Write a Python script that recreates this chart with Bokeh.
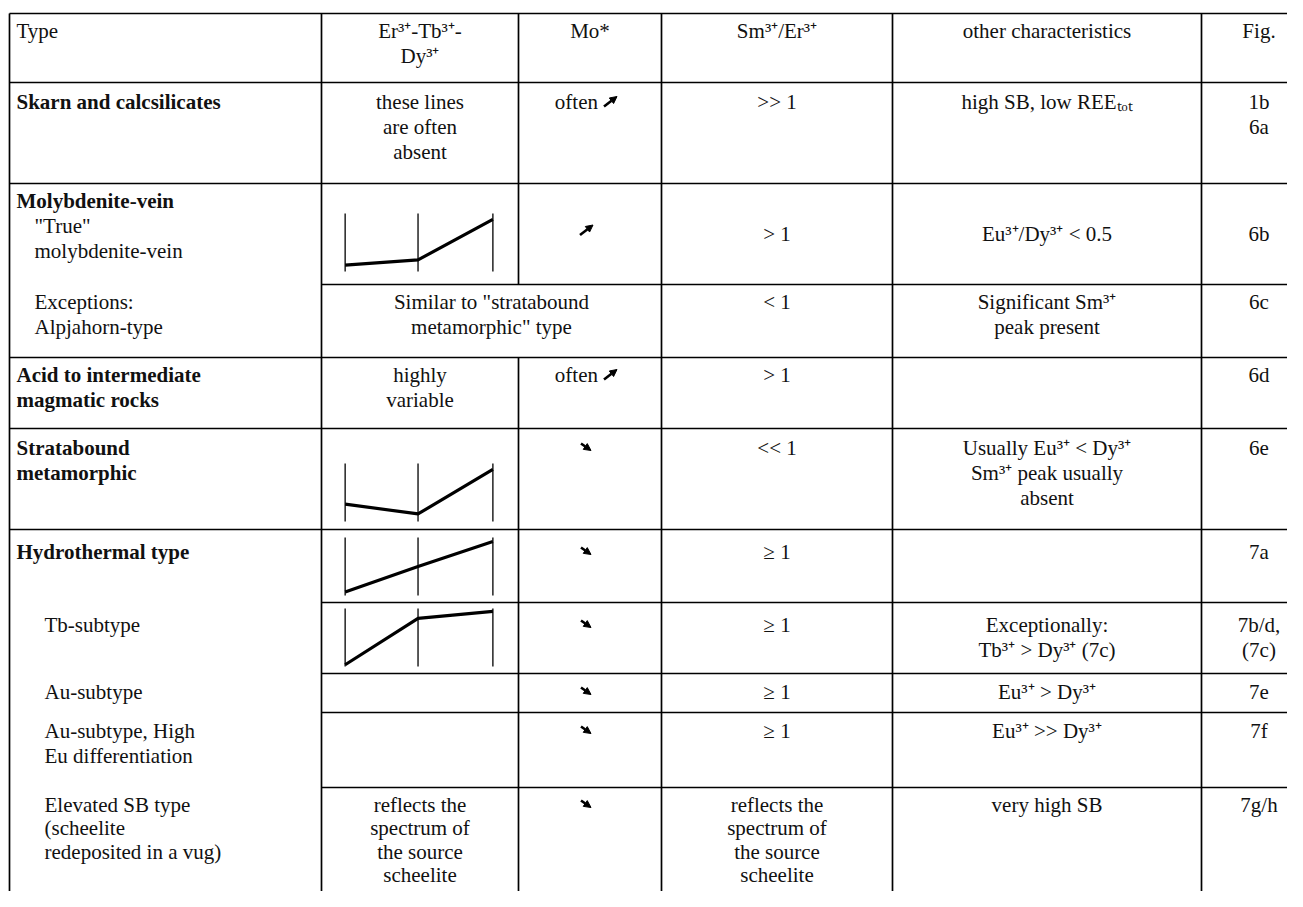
from bokeh.plotting import figure
from bokeh.models import ColumnDataSource, Range1d, Arrow, NormalHead
from bokeh.core.properties import value
from bokeh.embed import file_html
from bokeh.resources import INLINE

# ---------------- data (table content) ----------------
header_type = ["Type"]
header_er = ["Er³⁺-Tb³⁺-", "Dy³⁺"]
header_mo = ["Mo*"]
header_sm = ["Sm³⁺/Er³⁺"]
header_other = ["other characteristics"]
header_fig = ["Fig."]

type_lines = [
    ["Skarn and calcsilicates"],
    ["Molybdenite-vein", '"True"', "molybdenite-vein"],
    ["Exceptions:", "Alpjahorn-type"],
    ["Acid to intermediate", "magmatic rocks"],
    ["Stratabound", "metamorphic"],
    ["Hydrothermal type"],
    ["Tb-subtype"],
    ["Au-subtype"],
    ["Au-subtype, High", "Eu differentiation"],
    ["Elevated SB type", "(scheelite", "redeposited in a vug)"],
]
type_bold = [[1], [1, 0, 0], [0, 0], [1, 1], [1, 1], [1], [0], [0], [0, 0], [0, 0, 0]]

er_lines = [
    ["these lines", "are often", "absent"],
    [],
    [],
    ["highly", "variable"],
    [],
    [],
    [],
    [],
    [],
    ["reflects the", "spectrum of", "the source", "scheelite"],
]
merged_er_mo = ['Similar to "stratabound', 'metamorphic" type']
mo_words = ["often", "", None, "often", "", "", "", "", "", ""]
mo_trend = ["up", "up", None, "up", "down", "down", "down", "down", "down", "down"]
sm_lines = [
    [">> 1"], ["> 1"], ["< 1"], ["> 1"], ["<< 1"], ["≥ 1"], ["≥ 1"], ["≥ 1"], ["≥ 1"],
    ["reflects the", "spectrum of", "the source", "scheelite"],
]
other_lines = [
    ["high SB, low REEₜₒₜ"],
    ["Eu³⁺/Dy³⁺ < 0.5"],
    ["Significant Sm³⁺", "peak present"],
    [],
    ["Usually Eu³⁺ < Dy³⁺", "Sm³⁺ peak usually", "absent"],
    [],
    ["Exceptionally:", "Tb³⁺ > Dy³⁺ (7c)"],
    ["Eu³⁺ > Dy³⁺"],
    ["Eu³⁺ >> Dy³⁺"],
    ["very high SB"],
]
fig_lines = [["1b", "6a"], ["6b"], ["6c"], ["6d"], ["6e"], ["7a"], ["7b/d,", "(7c)"], ["7e"], ["7f"], ["7g/h"]]

# Er3+-Tb3+-Dy3+ relative line heights (sketch profiles)
profile_rows = [1, 4, 5, 6]
profile_molybdenite = [0.11, 0.20, 0.90]
profile_stratabound = [0.30, 0.13, 0.90]
profile_hydrothermal = [0.06, 0.50, 0.93]
profile_tb_subtype = [0.03, 0.83, 0.95]
profiles = [profile_molybdenite, profile_stratabound, profile_hydrothermal, profile_tb_subtype]

# ---------------- layout ----------------
W, H = 1287, 891
X0, Y0 = 0, 0
col_edges = [9, 321, 518, 661, 892, 1201, 1316]
row_edges = [13, 82, 183, 284, 357, 428, 529, 602, 673, 712, 787, 960]
FS = "21px"
FONT = "Liberation Serif"
first_off = [19, 17, 17, 17, 19, 22, 22, 18, 18, 17]
line_sp = [25, 25, 25, 25, 25, 25, 25, 25, 25, 23.5]
type_x = [16, 16, 34, 16, 16, 16, 44, 44, 44, 44]
type_x_line = {1: [16, 34, 34]}
chart_top_off = [30, 35, 8, 6]
chart_h = 58
chart_frac = [0.12, 0.49, 0.87]

p = figure(width=W, height=H, x_range=Range1d(X0, X0 + W), y_range=Range1d(Y0 + H, Y0),
           output_backend="svg", toolbar_location=None, min_border=0,
           x_axis_location=None, y_axis_location=None)
p.grid.visible = False
p.outline_line_color = None
p.background_fill_color = "white"
p.border_fill_color = "white"

def cc(i):
    return (col_edges[i] + col_edges[i + 1]) / 2

reg_c = dict(x=[], y=[], t=[])
reg_l = dict(x=[], y=[], t=[])
bold_l = dict(x=[], y=[], t=[])

# header
hy = row_edges[0] + 17
reg_l["x"].append(16); reg_l["y"].append(hy); reg_l["t"].append(header_type[0])
for k, s in enumerate(header_er):
    reg_c["x"].append(cc(1)); reg_c["y"].append(hy + k * 25); reg_c["t"].append(s)
for ci, hl in [(2, header_mo), (3, header_sm), (4, header_other), (5, header_fig)]:
    reg_c["x"].append(cc(ci)); reg_c["y"].append(hy); reg_c["t"].append(hl[0])

def add_center(ci, r, lines, y0=None):
    top = row_edges[r + 1]
    base = top + first_off[r] if y0 is None else y0
    for k, s in enumerate(lines):
        reg_c["x"].append(cc(ci)); reg_c["y"].append(base + k * line_sp[r]); reg_c["t"].append(s)

for r in range(10):
    top = row_edges[r + 1]
    for k, s in enumerate(type_lines[r]):
        xs = type_x_line.get(r, [type_x[r]] * 3)[k]
        d = bold_l if type_bold[r][k] else reg_l
        d["x"].append(xs); d["y"].append(top + first_off[r] + k * line_sp[r]); d["t"].append(s)
    mid = None
    if r == 1:
        mid = (row_edges[2] + row_edges[3]) / 2
    add_center(1, r, er_lines[r])
    add_center(3, r, sm_lines[r], mid)
    add_center(4, r, other_lines[r], mid)
    add_center(5, r, fig_lines[r], mid)

# merged Er+Mo cell in exceptions row
mx = (col_edges[1] + col_edges[3]) / 2
for k, s in enumerate(merged_er_mo):
    reg_c["x"].append(mx); reg_c["y"].append(row_edges[3] + first_off[2] + k * 25); reg_c["t"].append(s)

common = dict(text_font=value(FONT), text_font_size=FS, text_baseline="middle", text_color="#111111")
p.text(x="x", y="y", text="t", source=ColumnDataSource(reg_c), text_align="center", **common)
p.text(x="x", y="y", text="t", source=ColumnDataSource(reg_l), text_align="left", **common)
p.text(x="x", y="y", text="t", source=ColumnDataSource(bold_l), text_align="left",
       text_font_style="bold", **common)

# Mo* column: word + trend arrows
word_src = dict(x=[], y=[], t=[])
for r in range(10):
    if mo_trend[r] is None:
        continue
    top = row_edges[r + 1]
    y = top + first_off[r] if r != 1 else (row_edges[2] + row_edges[3]) / 2 - 4
    cx = cc(2)
    if mo_words[r]:
        word_src["x"].append(cx + 8); word_src["y"].append(y); word_src["t"].append(mo_words[r])
        ax = cx + 20
    else:
        ax = cx - 4
    if mo_trend[r] == "up":
        x0, y0, x1, y1 = ax - 6, y + 5, ax + 7, y - 5
    else:
        x0, y0, x1, y1 = ax - 5, y - 4, ax + 5, y + 3
    p.add_layout(Arrow(end=NormalHead(size=7, fill_color="black", line_color="black", line_width=1),
                       x_start=x0, y_start=y0, x_end=x1, y_end=y1,
                       line_width=2.6, line_color="black"))
p.text(x="x", y="y", text="t", source=ColumnDataSource(word_src), text_align="right", **common)

# grid lines
hx0, hx1, hy_ = [], [], []
full_rows = [0, 1, 2, 4, 5, 6]
partial_rows = [3, 7, 8, 9, 10]
for i in full_rows:
    hx0.append(col_edges[0]); hx1.append(1320); hy_.append(row_edges[i])
for i in partial_rows:
    hx0.append(col_edges[1]); hx1.append(1320); hy_.append(row_edges[i])
p.segment(x0=hx0, y0=hy_, x1=hx1, y1=hy_, line_color="black", line_width=1.7)

vx, vy0, vy1 = [], [], []
for ci in [0, 1, 3, 4, 5]:
    vx.append(col_edges[ci]); vy0.append(row_edges[0]); vy1.append(950)
vx += [col_edges[2], col_edges[2]]
vy0 += [row_edges[0], row_edges[4]]
vy1 += [row_edges[3], 950]
p.segment(x0=vx, y0=vy0, x1=vx, y1=vy1, line_color="black", line_width=1.7)

# mini charts
for k, r in enumerate(profile_rows):
    left = col_edges[1]
    w = col_edges[2] - col_edges[1]
    ctop = row_edges[r + 1] + chart_top_off[k]
    cbot = ctop + chart_h
    xs = [left + f * w for f in chart_frac]
    p.segment(x0=xs, y0=[ctop] * 3, x1=xs, y1=[cbot] * 3, line_color="black", line_width=1.3)
    ys = [cbot - v * chart_h for v in profiles[k]]
    p.line(xs, ys, line_color="black", line_width=3.2, line_join="round")

open("out.html", "w").write(file_html(p, INLINE))
